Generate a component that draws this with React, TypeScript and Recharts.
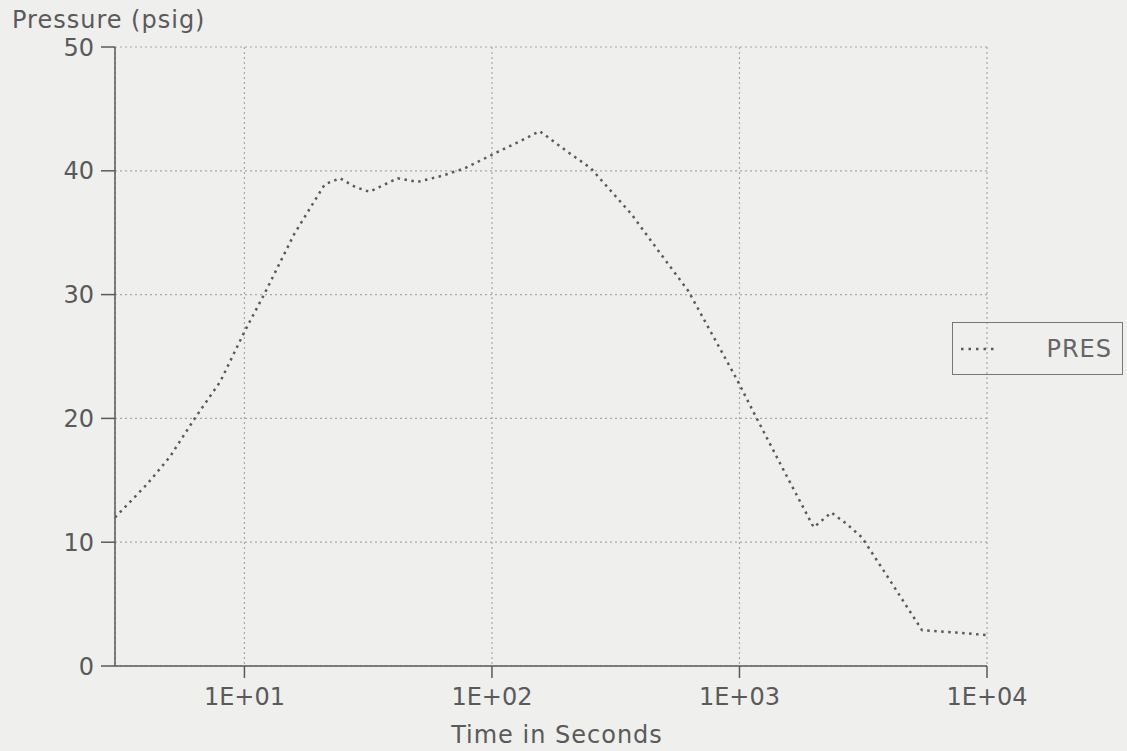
import React from "react";
import { CartesianGrid, Label, Legend, Line, LineChart, XAxis, YAxis } from "recharts";

// time (s) vs containment pressure (psig)
const timeSec = [3, 4.05, 5, 6.3, 8, 10, 12, 15.9, 21.1, 24.3, 28, 32, 36.9, 41.6, 50, 63, 77.6, 105, 130, 156, 200, 251, 366, 480, 621, 973, 1140, 1500, 1995, 2350, 2700, 3120, 4000, 5460, 7500, 10000];
const pres = [12, 14.7, 16.9, 20, 23, 27, 30, 34.9, 38.9, 39.4, 38.7, 38.3, 38.9, 39.4, 39.1, 39.6, 40.2, 41.5, 42.4, 43.2, 41.6, 40.2, 36.5, 33.3, 30.3, 23.2, 20.5, 15.9, 11.2, 12.4, 11.5, 10.4, 7.1, 2.9, 2.7, 2.5];

const xTicks = [10, 100, 1000, 10000];
const yTicks = [0, 10, 20, 30, 40, 50];

const data = timeSec.map((t, i) => ({ t, pres: pres[i] }));

const ink = "#5a5a5a";
const font = "'DejaVu Sans', sans-serif";
const tickStyle = { fill: ink, fontSize: 24, fontFamily: font };

const fmtExp = (v: number) => {
  const e = Math.round(Math.log10(v));
  return `1E+${String(e).padStart(2, "0")}`;
};

function LegendBox() {
  return (
    <div style={{ width: 171, height: 53, border: "1.5px solid #777", display: "flex", alignItems: "center", boxSizing: "border-box", fontFamily: font }}>
      <svg width={50} height={10} style={{ marginLeft: 8 }}>
        <line x1={0} y1={5} x2={36} y2={5} stroke={ink} strokeWidth={2.5} strokeDasharray="2.5 5" />
      </svg>
      <span style={{ marginLeft: "auto", marginRight: 10, fontSize: 24, color: "#666", letterSpacing: 1 }}>PRES</span>
    </div>
  );
}

export default function App() {
  return (
    <div style={{ position: "absolute", left: 0, top: 0, width: 1127, height: 751, background: "#efefed" }}>
      <LineChart width={1127} height={751} data={data} margin={{ top: 47, right: 140, bottom: 45, left: 35 }}>
        <CartesianGrid stroke="#a8a8a8" strokeDasharray="2 3" strokeWidth={1.2} />
        <XAxis
          dataKey="t"
          type="number"
          scale="log"
          domain={[3, 10000]}
          allowDataOverflow
          ticks={xTicks}
          tickFormatter={fmtExp}
          tick={tickStyle}
          tickSize={12}
          tickMargin={10}
          height={40}
          stroke={ink}
          strokeWidth={1.5}
        >
          <Label value="Time in Seconds" position="bottom" offset={20} dx={6} fill={ink} fontSize={24} fontFamily={font} letterSpacing={1} />
        </XAxis>
        <YAxis
          type="number"
          domain={[0, 50]}
          ticks={yTicks}
          tick={tickStyle}
          tickSize={14}
          tickMargin={7}
          width={80}
          stroke={ink}
          strokeWidth={1.5}
        >
          <Label
            content={(props: any) => {
              const vb = props.viewBox || { x: 35, y: 47 };
              return (
                <text x={vb.x - 23} y={vb.y - 19} fill={ink} fontSize={24} fontFamily={font} letterSpacing={1}>
                  Pressure (psig)
                </text>
              );
            }}
          />
        </YAxis>
        <Legend
          layout="horizontal"
          verticalAlign="middle"
          align="center"
          content={() => <LegendBox />}
          wrapperStyle={{ position: "absolute", left: 952, top: 322, width: 173, height: 55 }}
        />
        <Line
          name="PRES"
          dataKey="pres"
          type="linear"
          stroke={ink}
          strokeWidth={2.5}
          strokeDasharray="2.5 4.5"
          dot={false}
          activeDot={false}
          isAnimationActive={false}
        />
      </LineChart>
    </div>
  );
}
